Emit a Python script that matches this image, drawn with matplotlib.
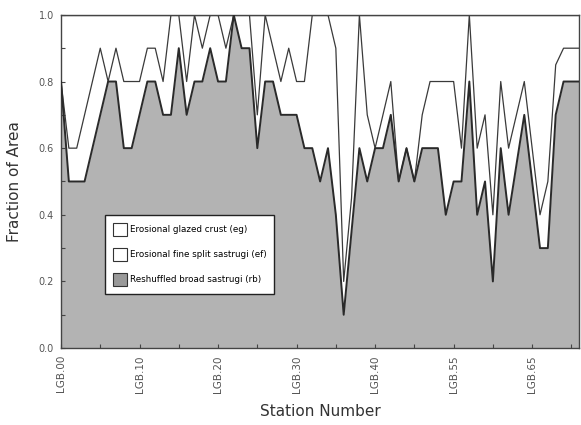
import matplotlib
matplotlib.use("Agg")
import matplotlib.pyplot as plt
import numpy as np
from matplotlib.patches import Patch

# Station index positions (67 stations) and labelled ticks
tick_pos = [0, 10, 20, 30, 40, 50, 60]
tick_labels = ["LGB.00", "LGB.10", "LGB.20", "LGB.30", "LGB.40", "LGB.55", "LGB.65"]

# Reshuffled broad sastrugi (rb) fraction
rb = [0.8, 0.5, 0.5, 0.5, 0.6, 0.7, 0.8, 0.8, 0.6, 0.6,
      0.7, 0.8, 0.8, 0.7, 0.7, 0.9, 0.7, 0.8, 0.8, 0.9,
      0.8, 0.8, 1.0, 0.9, 0.9, 0.6, 0.8, 0.8, 0.7, 0.7,
      0.7, 0.6, 0.6, 0.5, 0.6, 0.4, 0.1, 0.35, 0.6, 0.5,
      0.6, 0.6, 0.7, 0.5, 0.6, 0.5, 0.6, 0.6, 0.6, 0.4,
      0.5, 0.5, 0.8, 0.4, 0.5, 0.2, 0.6, 0.4, 0.55, 0.7,
      0.5, 0.3, 0.3, 0.7, 0.8, 0.8, 0.8]
# Erosional fine split sastrugi (ef) fraction
ef = [0.0, 0.1, 0.1, 0.2, 0.2, 0.2, 0.0, 0.1, 0.2, 0.2,
      0.1, 0.1, 0.1, 0.1, 0.3, 0.1, 0.1, 0.2, 0.1, 0.1,
      0.2, 0.1, 0.0, 0.1, 0.1, 0.1, 0.2, 0.1, 0.1, 0.2,
      0.1, 0.2, 0.4, 0.5, 0.4, 0.5, 0.1, 0.1, 0.4, 0.2,
      0.0, 0.1, 0.1, 0.0, 0.0, 0.0, 0.1, 0.2, 0.2, 0.4,
      0.3, 0.1, 0.2, 0.2, 0.2, 0.2, 0.2, 0.2, 0.15, 0.1,
      0.1, 0.1, 0.2, 0.15, 0.1, 0.1, 0.1]
# Erosional glazed crust (eg) fraction
eg = [0.2, 0.4, 0.4, 0.3, 0.2, 0.1, 0.2, 0.1, 0.2, 0.2,
      0.2, 0.1, 0.1, 0.2, 0.0, 0.0, 0.2, 0.0, 0.1, 0.0,
      0.0, 0.1, 0.0, 0.0, 0.0, 0.3, 0.0, 0.1, 0.2, 0.1,
      0.2, 0.2, 0.0, 0.0, 0.0, 0.1, 0.8, 0.55, 0.0, 0.3,
      0.4, 0.3, 0.2, 0.5, 0.4, 0.5, 0.3, 0.2, 0.2, 0.2,
      0.2, 0.4, 0.0, 0.4, 0.3, 0.6, 0.2, 0.4, 0.3, 0.2,
      0.4, 0.6, 0.5, 0.15, 0.1, 0.1, 0.1]

rb = np.array(rb)
ef_top = rb + np.array(ef)
eg_top = ef_top + np.array(eg)
x = np.arange(len(rb))

plt.rcParams['font.family'] = ['DejaVu Sans']
fig = plt.figure(figsize=(5.81, 4.25), dpi=100)
ax = fig.add_axes([0.105, 0.181, 0.892, 0.784])

grey = '#b3b3b3'
ax.fill_between(x, 0, rb, color=grey, lw=0, zorder=1)
ax.plot(x, rb, color='#2a2a2a', lw=1.4, zorder=3)
ax.plot(x, ef_top, color='#3a3a3a', lw=0.9, zorder=2)
ax.plot(x, eg_top, color='#3a3a3a', lw=0.9, zorder=2)

ax.set_xlim(0, len(rb) - 1)
ax.set_ylim(0, 1.0)
ax.set_xticks(tick_pos)
ax.set_xticklabels(tick_labels, rotation=90, fontsize=7.5, color='#555555')
ax.set_xticks([5, 15, 25, 35, 45, 55, 65], minor=True)
ax.set_yticks(np.arange(0, 1.01, 0.2))
ax.set_yticklabels([f"{v:.1f}" for v in np.arange(0, 1.01, 0.2)], fontsize=7, color='#666666')
ax.set_yticks(np.arange(0.1, 1.0, 0.2), minor=True)
ax.tick_params(which='both', direction='in', length=3, width=0.8, colors='#444444')
ax.tick_params(axis='both', which='major', labelcolor='#555555', pad=5)
for s in ax.spines.values():
    s.set_color('#444444')
    s.set_linewidth(1.0)

ax.set_xlabel("Station Number", fontsize=11, color='#333333', labelpad=8)
ax.set_ylabel("Fraction of Area", fontsize=11, color='#333333', labelpad=12)

handles = [Patch(facecolor='white', edgecolor='#333333', lw=0.8, label='Erosional glazed crust (eg)'),
           Patch(facecolor='white', edgecolor='#333333', lw=0.8, label='Erosional fine split sastrugi (ef)'),
           Patch(facecolor='#999999', edgecolor='#333333', lw=0.8, label='Reshuffled broad sastrugi (rb)')]
leg = ax.legend(handles=handles, loc='upper left', bbox_to_anchor=(0.085, 0.40),
                fontsize=6.3, frameon=True, fancybox=False, framealpha=1,
                edgecolor='#222222', handlelength=1.6, handleheight=1.9,
                labelspacing=1.4, borderpad=0.9, handletextpad=0.3, borderaxespad=0)
leg.get_frame().set_linewidth(1.0)
leg.set_zorder(5)

fig.savefig("out.png", dpi=100)
